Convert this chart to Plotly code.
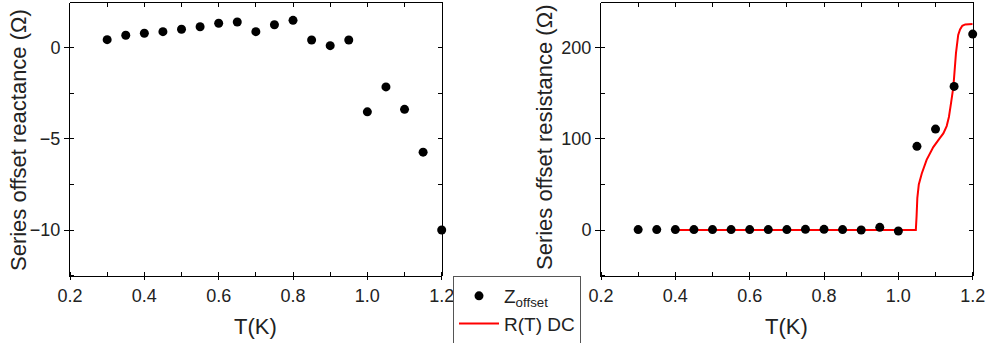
import plotly.graph_objects as go

# Temperature grid of the impedance measurements (K)
temps = [0.30, 0.35, 0.40, 0.45, 0.50, 0.55, 0.60, 0.65, 0.70, 0.75,
         0.80, 0.85, 0.90, 0.95, 1.00, 1.05, 1.10, 1.15, 1.20]

# Series offset reactance (Ohm)
reactance = [0.44, 0.68, 0.79, 0.88, 1.01, 1.15, 1.34, 1.41, 0.88, 1.26,
             1.50, 0.42, 0.11, 0.42, -3.52, -2.15, -3.38, -5.73, -10.0]

# Series offset resistance (Ohm)
resistance = [0.5, 0.5, 0.5, 0.5, 0.5, 0.5, 0.5, 0.5, 0.5, 0.8,
              0.8, 0.5, 0.0, 3.0, -1.0, 91.8, 110.7, 157.5, 214.9]

# DC resistance curve R(T)
dc_temps = [0.40, 1.047, 1.049, 1.051, 1.055, 1.063, 1.076, 1.094, 1.110,
            1.121, 1.130, 1.136, 1.142, 1.148, 1.155, 1.161, 1.166, 1.172,
            1.180, 1.190, 1.200]
dc_res = [0.0, 0.0, 15.0, 35.0, 50.0, 62.0, 77.0, 91.0, 100.0,
          106.0, 114.0, 124.0, 140.0, 157.0, 194.0, 214.0, 220.0, 224.0,
          225.5, 226.0, 226.0]

W, H = 987, 343
FONT = "Liberation Sans, Arial, sans-serif"
INK = "#222222"

fig = go.Figure()

# frame subplots (top / right axes with inward ticks)
for xa, ya in (("x3", "y3"), ("x4", "y4")):
    fig.add_trace(go.Scatter(x=[None], y=[None], mode="markers",
                             xaxis=xa, yaxis=ya, showlegend=False,
                             hoverinfo="skip"))

dot = dict(color="black", size=9, symbol="circle")

fig.add_trace(go.Scatter(x=temps, y=reactance, mode="markers", marker=dot,
                         name="Z<sub>offset</sub>", xaxis="x", yaxis="y",
                         showlegend=True, cliponaxis=False))
fig.add_trace(go.Scatter(x=dc_temps, y=dc_res, mode="lines",
                         line=dict(color="#ff0000", width=2),
                         name="R(T) DC", xaxis="x2", yaxis="y2",
                         showlegend=True))
fig.add_trace(go.Scatter(x=temps, y=resistance, mode="markers", marker=dot,
                         name="Z<sub>offset</sub>", xaxis="x2", yaxis="y2",
                         showlegend=False, cliponaxis=False))

ydom = [1 - 276 / H, 1 - 3 / H]
left_dom = [70 / W, 441.7 / W]
right_dom = [601 / W, 972.7 / W]

tickfont = dict(family=FONT, size=18, color=INK)
titlefont = dict(family=FONT, size=22, color=INK)

XR = [0.2, 1.2]
YR_L = [-12.52, 2.45]
YR_R = [-50.4, 249]


def xaxis_main(domain, anchor):
    return dict(domain=domain, anchor=anchor, range=XR, automargin=False,
                tick0=0.2, dtick=0.2, tickformat=".1f",
                ticks="outside", ticklen=3, tickcolor="black",
                minor=dict(dtick=0.1, ticks="inside", ticklen=4,
                           tickcolor="black", showgrid=False),
                showline=True, linecolor="black", linewidth=1,
                showgrid=False, zeroline=False, tickfont=tickfont)


def yaxis_main(domain, anchor, rng, dtick, minor_dtick):
    return dict(domain=domain, anchor=anchor, range=rng, dtick=dtick,
                automargin=False,
                ticks="outside", ticklen=5, tickcolor="black",
                minor=dict(dtick=minor_dtick, ticks="inside", ticklen=4,
                           tickcolor="black", showgrid=False),
                showline=True, linecolor="black", linewidth=1,
                showgrid=False, zeroline=False, tickfont=tickfont)


def xaxis_top(domain, anchor):
    return dict(domain=domain, anchor=anchor, side="top", range=XR,
                automargin=False,
                tick0=0.2, dtick=0.1, ticks="inside", ticklen=4,
                tickcolor="black", showticklabels=False, showline=True,
                linecolor="black", linewidth=1, showgrid=False,
                zeroline=False, fixedrange=True)


def yaxis_right(domain, anchor, rng, dtick):
    return dict(domain=domain, anchor=anchor, side="right", range=rng,
                automargin=False,
                dtick=dtick, ticks="inside", ticklen=4, tickcolor="black",
                showticklabels=False, showline=True, linecolor="black",
                linewidth=1, showgrid=False, zeroline=False, fixedrange=True)


def label(text, x, y, angle=0):
    return dict(text=text, x=x / W, y=1 - y / H, xref="paper", yref="paper",
                xanchor="center", yanchor="middle", showarrow=False,
                textangle=angle, font=titlefont)


fig.update_layout(
    width=W, height=H,
    margin=dict(l=0, r=0, t=0, b=0, autoexpand=False),
    paper_bgcolor="white", plot_bgcolor="rgba(0,0,0,0)",
    font=dict(family=FONT, color=INK),
    xaxis=xaxis_main(left_dom, "y"),
    yaxis=yaxis_main(ydom, "x", YR_L, 5, 2.5),
    xaxis2=xaxis_main(right_dom, "y2"),
    yaxis2=yaxis_main(ydom, "x2", YR_R, 100, 50),
    xaxis3=xaxis_top(left_dom, "y3"),
    yaxis3=yaxis_right(ydom, "x3", YR_L, 2.5),
    xaxis4=xaxis_top(right_dom, "y4"),
    yaxis4=yaxis_right(ydom, "x4", YR_R, 50),
    showlegend=True,
    legend=dict(x=453 / W, y=1 - 276 / H, xanchor="left", yanchor="top",
                bordercolor="#555555", borderwidth=1, bgcolor="white",
                font=dict(family=FONT, size=19, color=INK),
                tracegroupgap=0, itemwidth=40),
    annotations=[
        label("T(K)", (70 + 441.7) / 2, 326),
        label("T(K)", (601 + 972.7) / 2, 326),
        label("Series offset reactance (Ω)", 18, 140, -90),
        label("Series offset resistance (Ω)", 544, 138, -90),
    ],
)

fig.write_html("out.html")
